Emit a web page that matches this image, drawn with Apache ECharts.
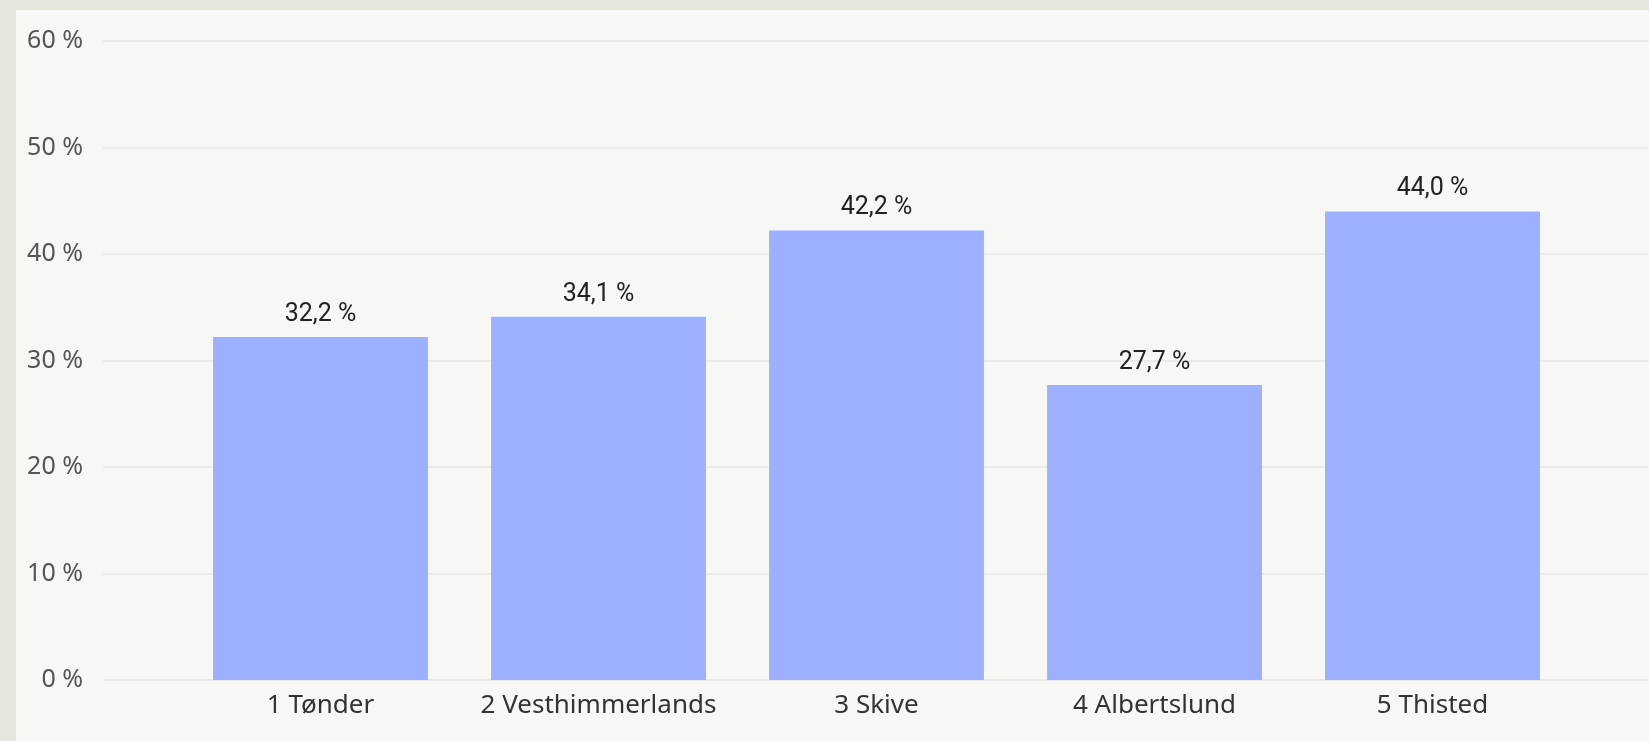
<!DOCTYPE html>
<html>
<head>
<meta charset="utf-8">
<script src="https://cdn.jsdelivr.net/npm/echarts@6/dist/echarts.min.js"></script>
<style>
  html, body { margin: 0; padding: 0; width: 1649px; height: 741px; background: #e6e6df; overflow: hidden; }
  #panel { position: absolute; left: 16px; top: 10px; right: 0; bottom: 0; background: #f7f7f5; }
  #chart { position: absolute; left: 0; top: 0; width: 1649px; height: 741px; }
</style>
</head>
<body>
<div id="panel"></div>
<div id="chart"></div>
<script>
const categories = ['1 Tønder', '2 Vesthimmerlands', '3 Skive', '4 Albertslund', '5 Thisted'];
const values = [32.2, 34.1, 42.2, 27.7, 44.0];
const yTicks = { min: 0, max: 60, interval: 10 };

const chart = echarts.init(document.getElementById('chart'), null, { renderer: 'canvas' });
const fmtPct = v => v.toFixed(1).replace('.', ',') + ' %';

chart.setOption({
  backgroundColor: 'transparent',
  animation: false,
  grid: [
    { left: 103, right: 0, top: 41, bottom: 61 },
    { left: 181.5, right: 77.5, top: 41, bottom: 61 }
  ],
  xAxis: [
    { gridIndex: 0, type: 'value', min: 0, max: 1, show: false },
    {
      gridIndex: 1, type: 'category', data: categories,
      axisLine: { show: false }, axisTick: { show: false },
      axisLabel: { color: '#333', fontFamily: 'Noto Sans', fontSize: 26, margin: 13,
        interval: 0, hideOverlap: false }
    }
  ],
  yAxis: [
    {
      gridIndex: 0, type: 'value', min: yTicks.min, max: yTicks.max, interval: yTicks.interval,
      axisLine: { show: false }, axisTick: { show: false },
      splitLine: { show: true, lineStyle: { color: '#e6e6e4', width: 1.5 } },
      axisLabel: { color: '#555', fontFamily: 'Noto Sans', fontSize: 25, margin: 20,
        formatter: v => v + ' %' }
    },
    {
      gridIndex: 1, type: 'value', min: yTicks.min, max: yTicks.max, interval: yTicks.interval,
      show: false
    }
  ],
  series: [{
    type: 'bar', xAxisIndex: 1, yAxisIndex: 1,
    data: values,
    barCategoryGap: '22.7%',
    itemStyle: { color: '#9dafff' },
    label: {
      show: true, position: 'top', distance: 10,
      color: '#222', fontFamily: 'Roboto', fontSize: 25,
      formatter: p => fmtPct(p.value)
    }
  }]
});
</script>
</body>
</html>
